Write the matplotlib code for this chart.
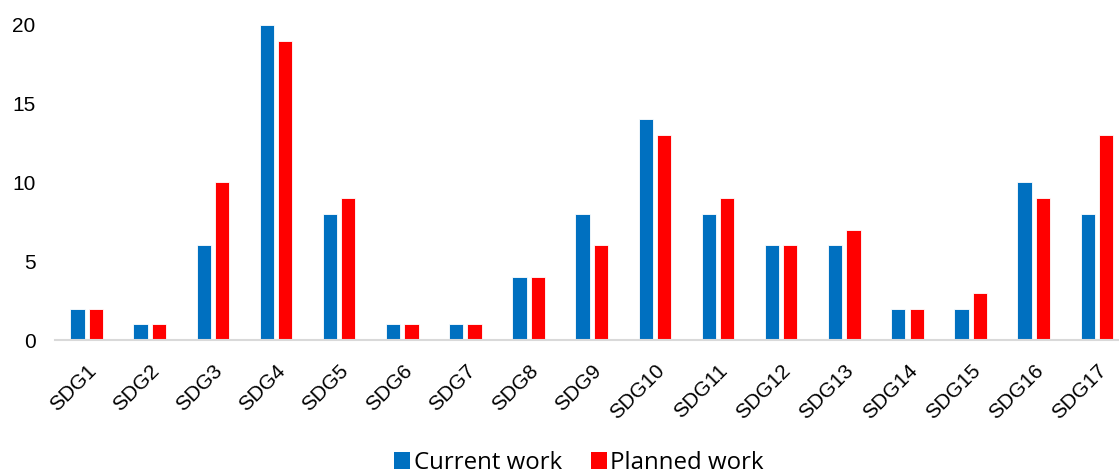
import numpy as np
from matplotlib import pyplot as plt

categories = ["SDG%d" % i for i in range(1, 18)]
current_work = [2, 1, 6, 20, 8, 1, 1, 4, 8, 14, 8, 6, 6, 2, 2, 10, 8]
planned_work = [2, 1, 10, 19, 9, 1, 1, 4, 6, 13, 9, 6, 7, 2, 3, 9, 13]

BLUE = "#0070C0"
RED = "#FF0000"

plt.rcParams['font.family'] = ['Liberation Sans', 'DejaVu Sans']

fig = plt.figure(figsize=(11.19, 4.73), dpi=100)
ax = fig.add_axes([55 / 1119, 133 / 473, 1064 / 1119, 315 / 473])

x = np.arange(len(categories))
w = 0.225
ax.bar(x - 0.145, current_work, w, color=BLUE, edgecolor="white", linewidth=0.6,
       label="Current work", clip_on=False)
ax.bar(x + 0.145, planned_work, w, color=RED, edgecolor="white", linewidth=0.6,
       label="Planned work", clip_on=False)

ax.set_xlim(-0.5, 16.35)
ax.set_ylim(0, 20)
ax.set_yticks([0, 5, 10, 15, 20])

for s in ["top", "right", "left"]:
  ax.spines[s].set_visible(False)
ax.spines["bottom"].set_color("#D9D9D9")
ax.spines["bottom"].set_linewidth(1.5)

ax.tick_params(axis="y", length=0, labelsize=15, pad=14)
ax.tick_params(axis="x", length=0, labelsize=15, pad=15)
ax.set_xticks(x)
ax.set_xticklabels(categories, rotation=45, ha="right", rotation_mode="anchor")

leg = fig.legend(loc="center", bbox_to_anchor=(579 / 1119, 1 - 463 / 473), ncol=2,
                 frameon=False, prop={"family": "Open Sans", "size": 17.3},
                 handlelength=0.67, handleheight=0.67,
                 handletextpad=0.15, columnspacing=1.2, borderaxespad=0)
for h in leg.legend_handles:
  h.set_linewidth(0)

fig.savefig("out.png", dpi=100)
